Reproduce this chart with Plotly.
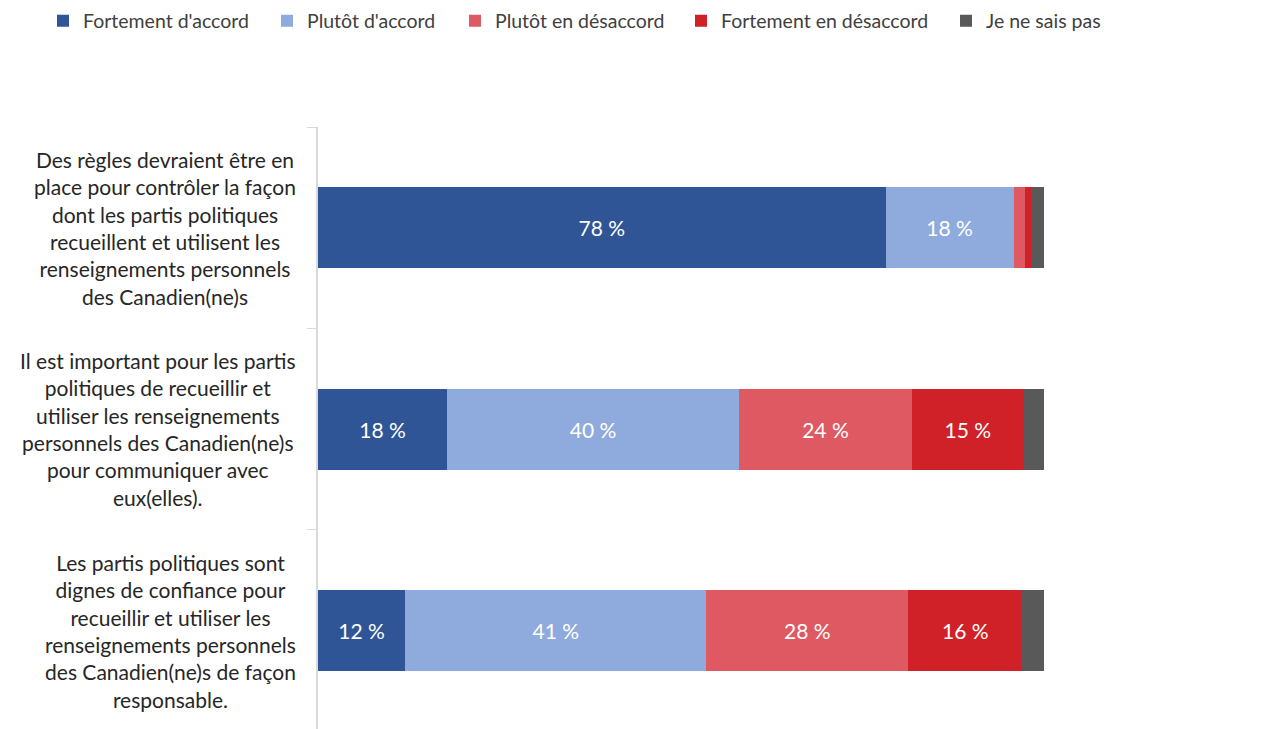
import plotly.graph_objects as go

categories = [
    "Des règles devraient être en<br>place pour contrôler la façon<br>dont les partis politiques<br>recueillent et utilisent les<br>renseignements personnels<br>des Canadien(ne)s",
    "Il est important pour les partis<br>politiques de recueillir et<br>utiliser les renseignements<br>personnels des Canadien(ne)s<br>pour communiquer avec<br>eux(elles).",
    "Les partis politiques sont<br>dignes de confiance pour<br>recueillir et utiliser les<br>renseignements personnels<br>des Canadien(ne)s de façon<br>responsable.",
]

series_names = ["Fortement d'accord", "Plutôt d'accord", "Plutôt en désaccord",
                "Fortement en désaccord", "Je ne sais pas"]

fortement_accord = [78.2, 17.8, 12.0]
plutot_accord = [17.6, 40.2, 41.5]
plutot_desaccord = [1.6, 23.8, 27.8]
fortement_desaccord = [0.8, 15.4, 15.7]
ne_sais_pas = [1.8, 2.8, 3.0]

labels_fortement_accord = ["78 %", "18 %", "12 %"]
labels_plutot_accord = ["18 %", "40 %", "41 %"]
labels_plutot_desaccord = ["", "24 %", "28 %"]
labels_fortement_desaccord = ["", "15 %", "16 %"]
labels_ne_sais_pas = ["", "", ""]

colors = ["#2F5597", "#8FAADC", "#DE5961", "#D02128", "#595959"]

values = [fortement_accord, plutot_accord, plutot_desaccord, fortement_desaccord, ne_sais_pas]
labels = [labels_fortement_accord, labels_plutot_accord, labels_plutot_desaccord,
          labels_fortement_desaccord, labels_ne_sais_pas]

FONT = "Lato"
OFF = 8  # page body margin
W, H = 1268 - OFF, 729 - OFF
L, R, T, B = 318 - OFF, 224, 127 - OFF, 0
pw = W - L - R
ph = H - T - B

legend_text_px = [84, 308, 496, 722, 987]
legend_keys = ["legend", "legend2", "legend3", "legend4", "legend5"]

fig = go.Figure()
for i, (name, vals, labs, col) in enumerate(zip(series_names, values, labels, colors)):
    fig.add_trace(go.Bar(
        y=categories, x=vals, name=name, orientation="h",
        marker=dict(color=col, line=dict(width=0)),
        text=labs, textposition="inside", insidetextanchor="middle",
        textfont=dict(color="white", size=21, family=FONT),
        legend=legend_keys[i], width=0.4,
        hoverinfo="x+name",
    ))

layout_legends = {}
for i, key in enumerate(legend_keys):
    px = legend_text_px[i] - OFF - 41
    layout_legends[key] = dict(
        orientation="h", x=(px - L) / pw, xanchor="left",
        y=(H - (21 - OFF) - B) / ph, yanchor="middle",
        font=dict(family=FONT, size=19.5, color="#404040"),
        bgcolor="rgba(0,0,0,0)", borderwidth=0, itemwidth=30,
    )

annotations = []
for c in categories:
    annotations.append(dict(
        x=(298 - OFF - L) / pw, xref="paper", xanchor="right",
        y=c, yref="y", yanchor="middle",
        text=c, showarrow=False, align="center",
        font=dict(family=FONT, size=21, color="#262626"),
    ))

fig.update_layout(
    width=W, height=H,
    barmode="stack",
    margin=dict(l=L, r=R, t=T, b=B, autoexpand=False),
    paper_bgcolor="white", plot_bgcolor="white",
    font=dict(family=FONT),
    annotations=annotations,
    showlegend=True,
    uniformtext=dict(minsize=21, mode="show"),
    **layout_legends,
)
fig.update_xaxes(range=[0, 100], visible=False, showgrid=False, zeroline=False)
fig.update_yaxes(
    type="category", range=[2.488, -0.5],
    showticklabels=False, showgrid=False, zeroline=False,
    showline=True, linecolor="#D9D9D9", linewidth=1.5,
    ticks="outside", tickson="boundaries", ticklen=9, tickcolor="#D9D9D9",
)

fig.write_html("out.html")
